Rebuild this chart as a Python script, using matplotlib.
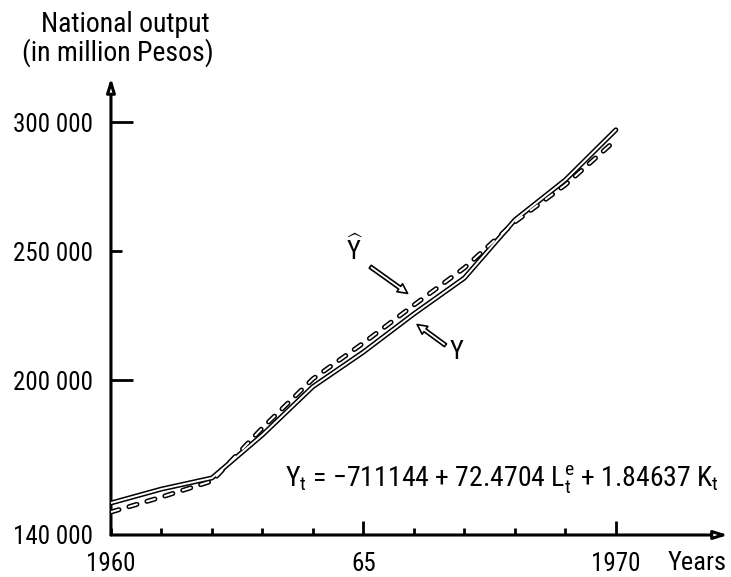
import matplotlib
matplotlib.use('Agg')
import matplotlib.pyplot as plt

FONT = 'Roboto Condensed'
plt.rcParams['font.family'] = [FONT, 'DejaVu Sans']
plt.rcParams['mathtext.fontset'] = 'custom'
plt.rcParams['mathtext.rm'] = FONT
plt.rcParams['mathtext.it'] = FONT
plt.rcParams['mathtext.default'] = 'rm'
plt.rcParams['lines.scale_dashes'] = False

# data
years = [1960, 1961, 1962, 1963, 1964, 1965, 1966, 1967, 1968, 1969, 1970]
y_actual = [152400, 157800, 162100, 178800, 197500, 210900, 225700, 239600, 262100, 277600, 297000]
y_fitted = [148900, 154700, 160900, 181500, 200500, 214400, 229100, 243500, 261300, 275700, 293100]

x_ticks = list(range(1960, 1971))
x_labels = ['1960', '', '', '', '', '65', '', '', '', '', '1970']
y_ticks = [140000, 200000, 250000, 300000]
y_labels = ['140 000', '200 000', '250 000', '300 000']

fs = 18

fig = plt.figure(figsize=(7.31, 5.77), dpi=100)
ax = fig.add_axes([0.1518, 0.0728, 0.844, 0.792])
ax.set_xlim(1960, 1972.22)
ax.set_ylim(140000, 317100)
for s in ax.spines.values():
    s.set_visible(False)

# hollow-looking lines (scan artefact): thick black then thin white on top
ax.plot(years, y_actual, color='black', lw=3.6, solid_capstyle='round', zorder=3)
ax.plot(years, y_actual, color='white', lw=1.4, solid_capstyle='round', zorder=4)
ax.plot(years, y_fitted, color='black', lw=3.6, dashes=(6, 7.5), dash_capstyle='round', zorder=3)
ax.plot(years, y_fitted, color='white', lw=1.4, dashes=(6, 7.5), dash_capstyle='round', zorder=4)

# axes with arrow heads
arrow = dict(arrowstyle='-|>,head_width=0.25,head_length=0.8',
             lw=2.2, fc='white', ec='black', shrinkA=0, shrinkB=0)
ax.annotate('', xy=(1, 0), xytext=(0, 0), xycoords='axes fraction', arrowprops=arrow)
ax.annotate('', xy=(0, 1), xytext=(0, 0), xycoords='axes fraction', arrowprops=arrow)

ax.set_xticks(x_ticks)
ax.set_xticklabels(x_labels, fontsize=fs)
ax.set_yticks(y_ticks)
ax.set_yticklabels(y_labels, fontsize=fs)
ax.tick_params(axis='x', direction='in', length=5, width=2, pad=12)
ax.tick_params(axis='y', direction='in', length=16, width=2, pad=13)
xt = ax.xaxis.get_major_ticks()
for i in (5, 10):
    xt[i].tick1line.set_markersize(10)
yt = ax.yaxis.get_major_ticks()
yt[0].tick1line.set_markersize(0)
yt[2].tick1line.set_markersize(8)

fig.text(697 / 731, 1 - 563 / 577, 'Years', fontsize=19, ha='center', va='center')
fig.text(125 / 731, 1 - 25 / 577, 'National output', fontsize=20, ha='center', va='center')
fig.text(118 / 731, 1 - 53 / 577, '(in million Pesos)', fontsize=20, ha='center', va='center')

fig.text(502 / 731, 1 - 480 / 577,
         '$Y_t$ = \u2212711144 + 72.4704 $L_t^e$ + 1.84637 $K_t$',
         fontsize=20, ha='center', va='center')

# labels with pointing arrows
pointer = dict(arrowstyle='simple,head_width=0.7,head_length=0.7,tail_width=0.25',
               fc='white', ec='black', lw=1.2)
ax.text(1964.82, 250500, r'$\widehat{Y}$', fontsize=19, ha='center', va='center')
ax.annotate('', xy=(1965.92, 233000), xytext=(1965.09, 244600), arrowprops=pointer)
ax.text(1966.85, 210900, 'Y', fontsize=19, ha='center', va='center')
ax.annotate('', xy=(1966.02, 222200), xytext=(1966.67, 212900), arrowprops=pointer)

fig.savefig('out.png', dpi=100)
